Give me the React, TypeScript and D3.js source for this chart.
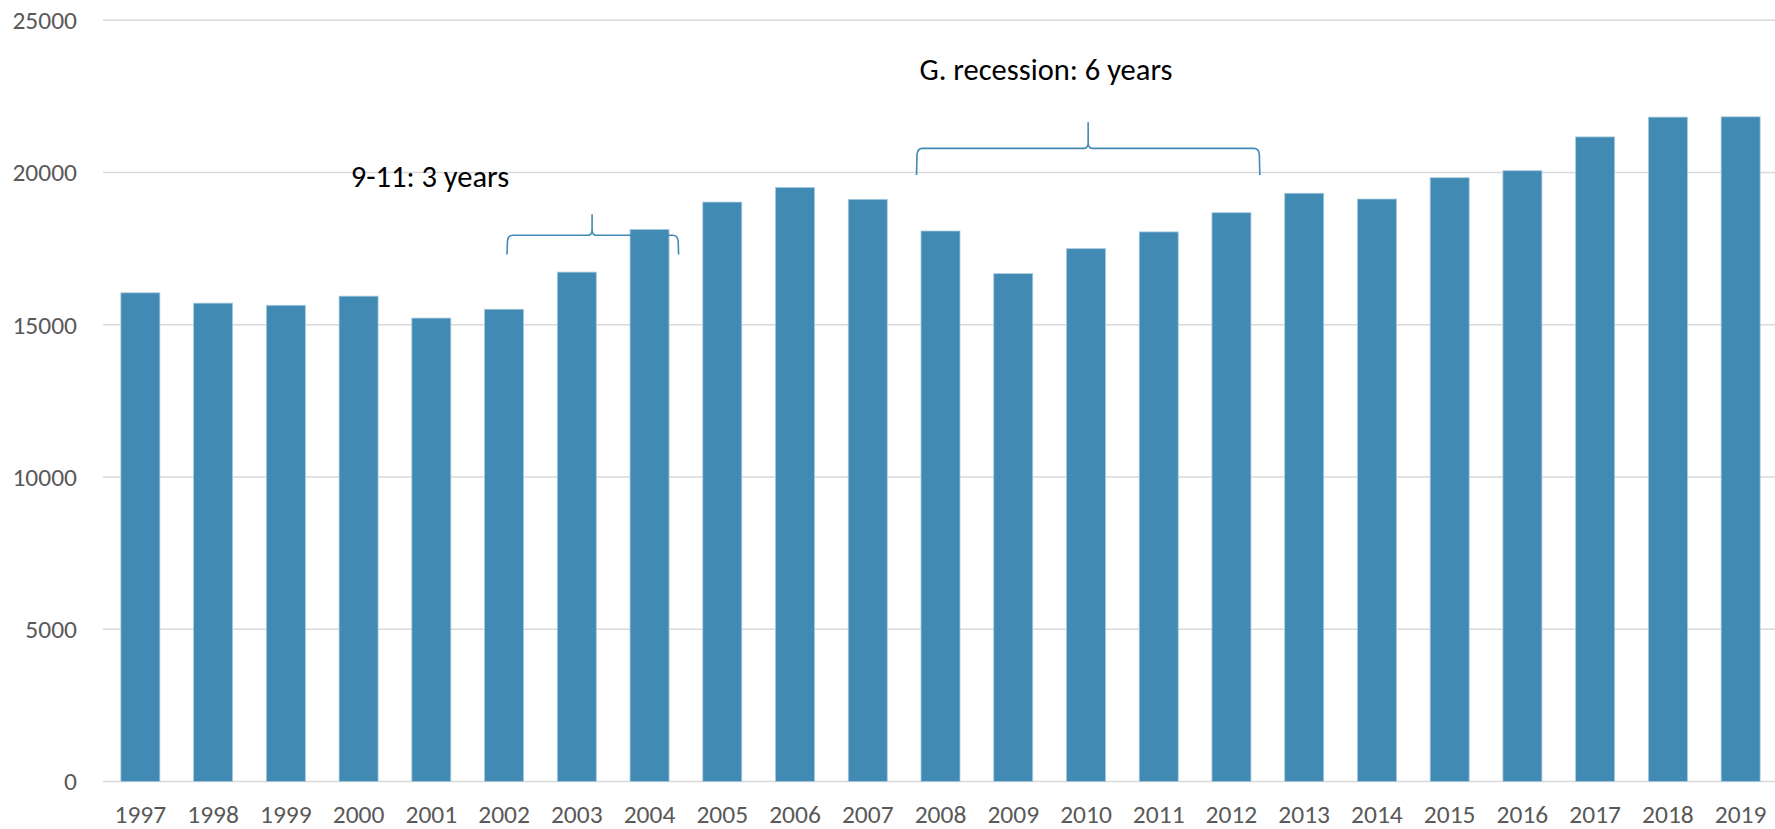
import React from 'react';
import * as d3 from 'd3';

const W = 1775;
const H = 829;

// Years on the x axis
const years = [
  '1997', '1998', '1999', '2000', '2001', '2002', '2003', '2004', '2005', '2006', '2007', '2008',
  '2009', '2010', '2011', '2012', '2013', '2014', '2015', '2016', '2017', '2018', '2019',
];

// Values
const values = [
  16050, 15710, 15640, 15940, 15220, 15510, 16730, 18130, 19030, 19510, 19120, 18080,
  16680, 17500, 18050, 18680, 19320, 19130, 19830, 20060, 21170, 21820, 21830,
];

const yTicks = [0, 5000, 10000, 15000, 20000, 25000];

// Braces: span in year-index units, heights in value units
const braceLabels = ['9-11: 3 years', 'G. recession: 6 years'];
const braceStart = [5.04, 10.67];
const braceEnd = [7.4, 15.39];
const braceTip = [6.21, 13.03];
const braceFoot = [17310, 19920];
const braceBar = [17940, 20795];
const braceTop = [18630, 21650];
const labelAt = [3.98, 12.45];
const labelBase = [19535, 23040];

const BLUE = '#418AB3';
const GRID = '#d9d9d9';
const FONT = "Calibri, Carlito, 'Open Sans', sans-serif";

const App = () => {
  React.useEffect(() => {
    document.body.style.margin = '0';
  }, []);

  const left = 104;
  const right = 1777;

  const x = d3.scaleBand<string>()
    .domain(years)
    .range([left, right])
    .paddingInner(0.464)
    .paddingOuter(0.232);

  const y = d3.scaleLinear().domain([0, 25000]).range([781.5, 20.3]);

  // index -> x of the band centre
  const xi = d3.scaleLinear()
    .domain([0, 1])
    .range([x(years[0])! + x.bandwidth() / 2, x(years[1])! + x.bandwidth() / 2]);

  const bracePath = (i: number) => {
    const x0 = xi(braceStart[i]);
    const x1 = xi(braceEnd[i]);
    const xm = xi(braceTip[i]);
    const yb = y(braceFoot[i]);
    const yh = y(braceBar[i]);
    const yt = y(braceTop[i]);
    const r = 6;
    const p = d3.path();
    p.moveTo(x0, yb);
    p.lineTo(x0 + 0.5, yh + r);
    p.quadraticCurveTo(x0 + 1, yh, x0 + r, yh);
    p.lineTo(xm - 4, yh);
    p.quadraticCurveTo(xm, yh, xm, yh - 6);
    p.lineTo(xm, yt);
    p.lineTo(xm, yh - 6);
    p.quadraticCurveTo(xm, yh, xm + 4, yh);
    p.lineTo(x1 - r, yh);
    p.quadraticCurveTo(x1 - 1, yh, x1 - 0.5, yh + r);
    p.lineTo(x1, yb);
    return p.toString();
  };

  return (
    <svg width={W} height={H} style={{ display: 'block', background: '#fff' }}>
      <g>
        {yTicks.map((t) => (
          <g key={t}>
            <line x1={103} x2={W} y1={y(t)} y2={y(t)} stroke={GRID} strokeWidth={1.5} />
            <text
              x={77}
              y={y(t)}
              dy="0.35em"
              textAnchor="end"
              fontFamily={FONT}
              fontSize={25.5}
              fill="#595959"
            >
              {t}
            </text>
          </g>
        ))}
      </g>
      <g>
        {years.map((yr, i) => (
          <rect
            key={yr}
            x={x(yr)}
            y={y(values[i])}
            width={x.bandwidth()}
            height={y(0) - y(values[i])}
            fill={BLUE}
            stroke="#a8cade"
            strokeWidth={0.8}
          />
        ))}
      </g>
      <g>
        {years.map((yr) => (
          <text
            key={yr}
            x={x(yr)! + x.bandwidth() / 2}
            y={823}
            textAnchor="middle"
            fontFamily={FONT}
            fontSize={25.5}
            fill="#595959"
          >
            {yr}
          </text>
        ))}
      </g>
      <g>
        {braceLabels.map((lab, i) => (
          <g key={lab}>
            <path d={bracePath(i)} fill="none" stroke={BLUE} strokeWidth={1.6} />
            <text
              x={xi(labelAt[i])}
              y={y(labelBase[i])}
              textAnchor="middle"
              fontFamily={FONT}
              fontSize={30.5}
              fill="#000"
            >
              {lab}
            </text>
          </g>
        ))}
      </g>
    </svg>
  );
};

export default App;
